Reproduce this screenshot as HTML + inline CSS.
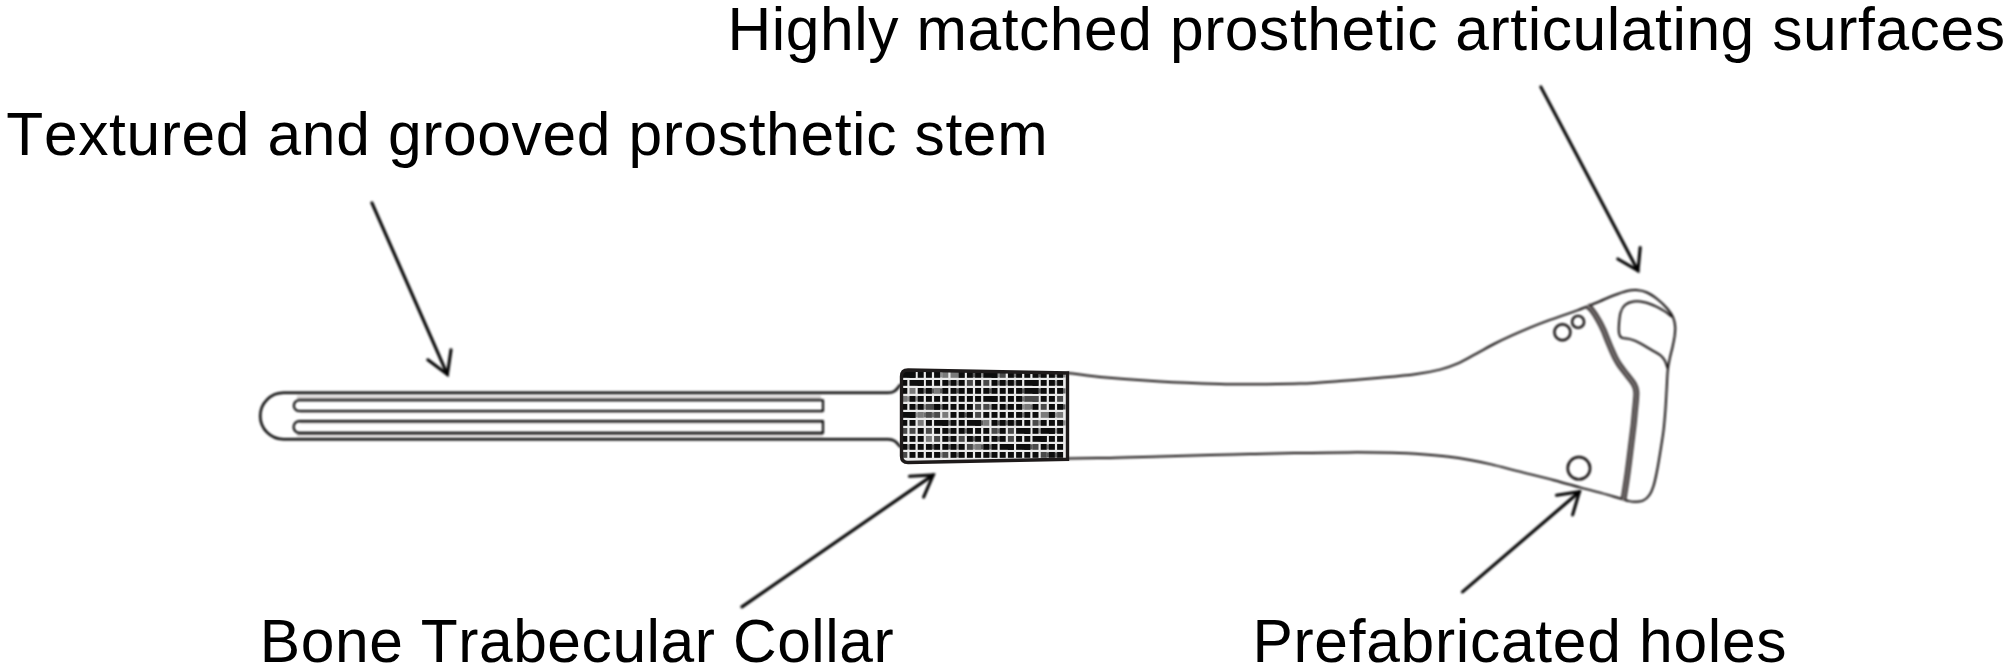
<!DOCTYPE html>
<html><head><meta charset="utf-8">
<style>
html,body{margin:0;padding:0;background:#fff;}
body{width:2008px;height:670px;overflow:hidden;position:relative;}
svg{position:absolute;left:0;top:0;}
text{font-family:"Liberation Sans",sans-serif;font-size:62px;fill:#000;font-kerning:none;}
</style></head>
<body>
<svg width="2008" height="670" viewBox="0 0 2008 670">
<defs>
<linearGradient id="gA" x1="0" y1="0" x2="0" y2="1"><stop offset="0" stop-color="#f0eeee"/><stop offset="0.5" stop-color="#d6d2d2"/><stop offset="1" stop-color="#aaa6a6"/></linearGradient>
<linearGradient id="gD" x1="0" y1="0" x2="0" y2="1"><stop offset="0" stop-color="#a8a4a4"/><stop offset="0.6" stop-color="#dedada"/><stop offset="1" stop-color="#ffffff"/></linearGradient>
<filter id="soft" color-interpolation-filters="sRGB" filterUnits="userSpaceOnUse" x="0" y="0" width="2008" height="670"><feGaussianBlur stdDeviation="0.8"/></filter>
</defs>

<!-- labels -->
<text x="727.5" y="50.3" style="font-size:60.5px;letter-spacing:0.576px">Highly matched prosthetic articulating surfaces</text>
<text x="6.3" y="155.2" style="font-size:60.5px;letter-spacing:0.637px">Textured and grooved prosthetic stem</text>
<text x="259.8" y="662.1" style="font-size:60.5px;letter-spacing:0.562px">Bone Trabecular Collar</text>
<text x="1252.4" y="662.1" style="font-size:60.5px;letter-spacing:0.717px">Prefabricated holes</text>

<g filter="url(#soft)">
<!-- stem shading bands -->
<g transform="translate(0,0.5)">
<rect x="297" y="394.3" width="524" height="4.7" fill="url(#gA)"/>
<rect x="300" y="411.3" width="523" height="2" fill="#e4e1e1"/>
<rect x="300" y="421.4" width="523" height="2" fill="#dcd9d9"/>
<rect x="297" y="433.4" width="526" height="3.6" fill="url(#gD)"/>
</g>

<g fill="none" stroke="#000" stroke-width="2.5" stroke-linejoin="round" stroke-linecap="round" transform="translate(0,0.5)">
<!-- stem outline -->
<path d="M 900,384.5 C 896,390 894,392.2 888,392.2 L 283.5,392.2 A 23.3,23.3 0 0 0 283.5,438.8 L 888,438.8 C 894,438.8 896,441 900,446"/>
<!-- grooves -->
<path stroke-width="2.1" d="M 823,399.8 L 299.2,399.8 A 5.35,5.35 0 0 0 299.2,410.5 L 823,410.5 Z"/>
<path stroke-width="2.1" d="M 823,420.6 L 299.5,420.6 A 5.9,5.9 0 0 0 299.5,432.4 L 823,432.4 Z"/>
</g>
<g fill="none" stroke="#0a0606" stroke-width="2" stroke-linejoin="round" stroke-linecap="round">
<!-- body top -->
<path d="M 1068.0,372.9 C 1073.3,373.6 1084.7,375.5 1100.0,376.9 C 1115.3,378.3 1140.0,380.2 1160.0,381.4 C 1180.0,382.6 1203.3,383.4 1220.0,383.9 C 1236.7,384.4 1246.7,384.2 1260.0,384.2 C 1273.3,384.1 1286.7,384.1 1300.0,383.6 C 1313.3,383.1 1326.7,382.0 1340.0,381.0 C 1353.3,380.0 1367.5,378.9 1380.0,377.8 C 1392.5,376.7 1405.0,375.7 1415.0,374.3 C 1425.0,372.9 1432.8,371.4 1440.0,369.6 C 1447.2,367.8 1452.0,366.0 1458.0,363.4 C 1464.0,360.8 1470.0,357.0 1476.0,353.8 C 1482.0,350.6 1488.0,347.1 1494.0,344.0 C 1500.0,340.9 1506.0,338.1 1512.0,335.4 C 1518.0,332.7 1524.0,330.1 1530.0,327.6 C 1536.0,325.1 1542.0,322.8 1548.0,320.6 C 1554.0,318.4 1560.0,316.5 1566.0,314.4 C 1572.0,312.3 1578.3,310.0 1584.0,307.8 C 1589.7,305.6 1595.1,303.2 1600.0,301.2 C 1604.9,299.1 1608.9,297.2 1613.4,295.5 C 1617.9,293.8 1623.1,291.9 1626.9,291.0 C 1630.7,290.1 1633.0,289.9 1636.3,290.1 C 1639.6,290.4 1643.4,290.9 1647.0,292.5 C 1650.6,294.1 1654.4,296.8 1657.8,299.5 C 1661.2,302.2 1664.6,305.5 1667.2,308.5 C 1669.8,311.5 1671.9,314.5 1673.2,317.6 C 1674.5,320.7 1675.0,323.9 1675.2,327.0 C 1675.4,330.1 1675.0,333.0 1674.6,336.4 C 1674.1,339.8 1673.3,343.6 1672.5,347.2 C 1671.7,350.8 1670.7,354.1 1669.9,357.9 C 1669.1,361.7 1668.3,364.6 1667.8,370.0 C 1667.2,375.4 1667.0,383.3 1666.6,390.0 C 1666.2,396.7 1665.9,403.3 1665.4,410.0 C 1664.9,416.7 1664.3,423.9 1663.6,430.0 C 1662.9,436.1 1662.2,439.8 1661.1,446.8 C 1660.0,453.8 1658.1,465.5 1656.8,472.0 C 1655.5,478.5 1654.7,482.2 1653.5,486.0 C 1652.3,489.8 1651.2,492.6 1649.5,495.0 C 1647.8,497.4 1645.6,499.5 1643.0,500.6 C 1640.4,501.7 1636.7,501.8 1634.0,501.8 C 1631.3,501.8 1628.0,500.8 1626.8,500.6"/>
<!-- body bottom -->
<path d="M 1068.0,458.4 C 1075.0,458.3 1094.7,458.2 1110.0,457.9 C 1125.3,457.6 1143.3,456.9 1160.0,456.4 C 1176.7,455.9 1195.0,455.3 1210.0,454.9 C 1225.0,454.5 1236.0,454.4 1250.0,454.1 C 1264.0,453.8 1277.6,453.4 1294.0,453.1 C 1310.4,452.8 1332.3,452.4 1348.6,452.4 C 1364.9,452.3 1379.3,452.5 1392.0,452.8 C 1404.7,453.1 1415.8,453.8 1425.0,454.4 C 1434.2,455.0 1439.5,455.7 1447.0,456.6 C 1454.5,457.5 1462.6,458.7 1470.0,460.0 C 1477.4,461.3 1482.5,462.3 1491.3,464.4 C 1500.1,466.5 1512.2,469.8 1522.7,472.4 C 1533.2,475.0 1544.5,477.7 1554.0,480.2 C 1563.5,482.7 1572.3,485.3 1580.0,487.4 C 1587.7,489.5 1594.4,491.1 1600.0,492.6 C 1605.6,494.1 1608.9,495.2 1613.4,496.5 C 1617.9,497.8 1624.6,499.9 1626.8,500.6"/>
<!-- inner cup -->
<path d="M 1671.2,316.3 C 1670.3,315.6 1668.3,313.6 1665.8,312.0 C 1663.3,310.4 1660.0,308.2 1656.4,306.6 C 1652.8,305.0 1648.1,303.0 1644.3,302.2 C 1640.5,301.4 1636.8,301.1 1633.6,301.6 C 1630.4,302.1 1627.2,303.2 1625.0,305.0 C 1622.8,306.8 1621.6,309.3 1620.6,312.5 C 1619.6,315.7 1619.3,320.6 1619.0,324.0 C 1618.7,327.4 1618.6,330.7 1619.0,333.0 C 1619.4,335.3 1619.5,336.5 1621.5,337.6 C 1623.5,338.7 1627.8,338.4 1630.9,339.4 C 1634.0,340.3 1637.0,341.6 1640.3,343.3 C 1643.6,345.0 1647.7,347.7 1651.0,349.7 C 1654.3,351.7 1658.1,353.4 1660.4,355.2 C 1662.7,357.0 1663.6,358.4 1664.8,360.5 C 1666.0,362.6 1667.1,366.8 1667.6,368.0"/>
<!-- holes -->
<circle cx="1562.4" cy="332.3" r="8" stroke-width="2.4"/>
<circle cx="1578.1" cy="321.9" r="6" stroke-width="2.3"/>
<circle cx="1578.9" cy="468.2" r="11.2" stroke-width="2.4"/>
</g>

<!-- thick articulating boundary -->
<path d="M 1587.3,305.6 C 1588.1,306.3 1590.1,307.6 1591.9,310.0 C 1593.8,312.4 1596.5,316.7 1598.4,320.0 C 1600.3,323.3 1602.0,326.7 1603.5,330.0 C 1605.0,333.3 1606.1,336.7 1607.5,340.0 C 1608.9,343.3 1610.4,347.0 1611.7,350.0 C 1613.0,353.0 1614.0,355.3 1615.3,357.8 C 1616.6,360.3 1617.6,362.2 1619.5,365.0 C 1621.4,367.8 1624.5,371.6 1626.9,374.8 C 1629.3,378.0 1632.4,381.4 1634.0,384.2 C 1635.6,387.0 1636.0,389.1 1636.3,391.9 C 1636.6,394.7 1636.1,397.8 1635.9,400.8 C 1635.7,403.8 1635.4,406.0 1635.0,410.0 C 1634.6,414.0 1634.3,418.9 1633.6,425.0 C 1632.9,431.1 1631.9,438.7 1630.9,446.8 C 1629.9,454.9 1628.6,465.6 1627.5,473.7 C 1626.4,481.8 1624.9,490.8 1624.2,495.2 C 1623.5,499.6 1623.4,499.2 1623.2,500.0" fill="none" stroke="#363030" stroke-width="5.8" stroke-linecap="butt"/>
<path d="M 1587.3,305.6 C 1588.1,306.3 1590.1,307.6 1591.9,310.0 C 1593.8,312.4 1596.5,316.7 1598.4,320.0 C 1600.3,323.3 1602.0,326.7 1603.5,330.0 C 1605.0,333.3 1606.1,336.7 1607.5,340.0 C 1608.9,343.3 1610.4,347.0 1611.7,350.0 C 1613.0,353.0 1614.0,355.3 1615.3,357.8 C 1616.6,360.3 1617.6,362.2 1619.5,365.0 C 1621.4,367.8 1624.5,371.6 1626.9,374.8 C 1629.3,378.0 1632.4,381.4 1634.0,384.2 C 1635.6,387.0 1636.0,389.1 1636.3,391.9 C 1636.6,394.7 1636.1,397.8 1635.9,400.8 C 1635.7,403.8 1635.4,406.0 1635.0,410.0 C 1634.6,414.0 1634.3,418.9 1633.6,425.0 C 1632.9,431.1 1631.9,438.7 1630.9,446.8 C 1629.9,454.9 1628.6,465.6 1627.5,473.7 C 1626.4,481.8 1624.9,490.8 1624.2,495.2 C 1623.5,499.6 1623.4,499.2 1623.2,500.0" fill="none" stroke="#858080" stroke-width="2" stroke-linecap="butt"/>

</g>
<!-- collar -->
<clipPath id="cclip"><path d="M 908,370 L 1067.5,373 L 1067.5,459.3 L 908,462.5 Q 901.5,462.5 901.5,456 L 901.5,376.5 Q 901.5,370 908,370 Z"/></clipPath>
<g clip-path="url(#cclip)">
<rect x="900" y="368" width="170" height="97" fill="#ebebeb"/>
<rect x="907.1" y="372.3" width="2.6" height="5.2" fill="#707070"/>
<rect x="901.3" y="372.0" width="14.2" height="5.8" fill="#0c0c0c"/>
<rect x="909.5" y="372.0" width="6.0" height="5.8" fill="#0c0c0c"/>
<rect x="917.7" y="372.0" width="6.0" height="5.8" fill="#0c0c0c"/>
<rect x="925.9" y="372.0" width="6.0" height="5.8" fill="#0c0c0c"/>
<rect x="939.9" y="372.3" width="2.6" height="5.2" fill="#909090"/>
<rect x="934.1" y="372.0" width="6.0" height="5.8" fill="#0c0c0c"/>
<rect x="942.3" y="372.0" width="6.0" height="5.8" fill="#7a7a7a"/>
<rect x="950.5" y="372.0" width="14.2" height="5.8" fill="#7a7a7a"/>
<rect x="958.7" y="372.0" width="6.0" height="5.8" fill="#0c0c0c"/>
<rect x="972.7" y="372.3" width="2.6" height="5.2" fill="#5a5a5a"/>
<rect x="966.9" y="372.0" width="6.0" height="5.8" fill="#0c0c0c"/>
<rect x="980.9" y="372.3" width="2.6" height="5.2" fill="#909090"/>
<rect x="975.1" y="372.0" width="6.0" height="5.8" fill="#0c0c0c"/>
<rect x="983.3" y="372.0" width="14.2" height="5.8" fill="#0c0c0c"/>
<rect x="997.3" y="372.3" width="2.6" height="5.2" fill="#909090"/>
<rect x="991.5" y="372.0" width="6.0" height="5.8" fill="#0c0c0c"/>
<rect x="999.7" y="372.0" width="6.0" height="5.8" fill="#4a4a4a"/>
<rect x="1013.7" y="372.3" width="2.6" height="5.2" fill="#707070"/>
<rect x="1007.9" y="372.0" width="6.0" height="5.8" fill="#0c0c0c"/>
<rect x="1016.1" y="372.0" width="6.0" height="5.8" fill="#0c0c0c"/>
<rect x="1024.3" y="372.0" width="6.0" height="5.8" fill="#0c0c0c"/>
<rect x="1038.3" y="372.3" width="2.6" height="5.2" fill="#5a5a5a"/>
<rect x="1032.5" y="372.0" width="6.0" height="5.8" fill="#0c0c0c"/>
<rect x="1040.7" y="372.0" width="6.0" height="5.8" fill="#0c0c0c"/>
<rect x="1054.7" y="372.3" width="2.6" height="5.2" fill="#909090"/>
<rect x="1048.9" y="372.0" width="6.0" height="5.8" fill="#0c0c0c"/>
<rect x="1062.9" y="372.3" width="2.6" height="5.2" fill="#909090"/>
<rect x="1057.1" y="372.0" width="6.0" height="5.8" fill="#0c0c0c"/>
<rect x="901.3" y="380.0" width="6.0" height="5.8" fill="#0c0c0c"/>
<rect x="915.3" y="380.3" width="2.6" height="5.2" fill="#909090"/>
<rect x="909.5" y="380.0" width="14.2" height="5.8" fill="#0c0c0c"/>
<rect x="917.7" y="380.0" width="6.0" height="5.8" fill="#0c0c0c"/>
<rect x="925.9" y="380.0" width="6.0" height="5.8" fill="#0c0c0c"/>
<rect x="934.1" y="380.0" width="6.0" height="5.8" fill="#0c0c0c"/>
<rect x="948.1" y="380.3" width="2.6" height="5.2" fill="#707070"/>
<rect x="942.3" y="380.0" width="6.0" height="5.8" fill="#0c0c0c"/>
<rect x="956.3" y="380.3" width="2.6" height="5.2" fill="#909090"/>
<rect x="950.5" y="380.0" width="6.0" height="5.8" fill="#0c0c0c"/>
<rect x="958.7" y="380.0" width="6.0" height="5.8" fill="#0c0c0c"/>
<rect x="966.9" y="380.0" width="6.0" height="5.8" fill="#4a4a4a"/>
<rect x="975.1" y="380.0" width="6.0" height="5.8" fill="#0c0c0c"/>
<rect x="983.3" y="380.0" width="6.0" height="5.8" fill="#4a4a4a"/>
<rect x="997.3" y="380.3" width="2.6" height="5.2" fill="#707070"/>
<rect x="991.5" y="380.0" width="6.0" height="5.8" fill="#0c0c0c"/>
<rect x="1005.5" y="380.3" width="2.6" height="5.2" fill="#909090"/>
<rect x="999.7" y="380.0" width="6.0" height="5.8" fill="#0c0c0c"/>
<rect x="1013.7" y="380.3" width="2.6" height="5.2" fill="#909090"/>
<rect x="1007.9" y="380.0" width="6.0" height="5.8" fill="#0c0c0c"/>
<rect x="1016.1" y="380.0" width="6.0" height="5.8" fill="#0c0c0c"/>
<rect x="1024.3" y="380.0" width="14.2" height="5.8" fill="#0c0c0c"/>
<rect x="1032.5" y="380.0" width="6.0" height="5.8" fill="#0c0c0c"/>
<rect x="1040.7" y="380.0" width="6.0" height="5.8" fill="#0c0c0c"/>
<rect x="1054.7" y="380.3" width="2.6" height="5.2" fill="#909090"/>
<rect x="1048.9" y="380.0" width="6.0" height="5.8" fill="#0c0c0c"/>
<rect x="1057.1" y="380.0" width="6.0" height="5.8" fill="#0c0c0c"/>
<rect x="901.3" y="388.0" width="6.0" height="5.8" fill="#0c0c0c"/>
<rect x="909.5" y="388.0" width="6.0" height="5.8" fill="#7a7a7a"/>
<rect x="923.5" y="388.3" width="2.6" height="5.2" fill="#707070"/>
<rect x="917.7" y="388.0" width="6.0" height="5.8" fill="#0c0c0c"/>
<rect x="931.7" y="388.3" width="2.6" height="5.2" fill="#5a5a5a"/>
<rect x="925.9" y="388.0" width="6.0" height="5.8" fill="#0c0c0c"/>
<rect x="939.9" y="388.3" width="2.6" height="5.2" fill="#5a5a5a"/>
<rect x="934.1" y="388.0" width="6.0" height="5.8" fill="#7a7a7a"/>
<rect x="942.3" y="388.0" width="6.0" height="5.8" fill="#0c0c0c"/>
<rect x="956.3" y="388.3" width="2.6" height="5.2" fill="#5a5a5a"/>
<rect x="950.5" y="388.0" width="6.0" height="5.8" fill="#0c0c0c"/>
<rect x="958.7" y="388.0" width="6.0" height="5.8" fill="#0c0c0c"/>
<rect x="966.9" y="388.0" width="6.0" height="5.8" fill="#0c0c0c"/>
<rect x="975.1" y="388.0" width="6.0" height="5.8" fill="#0c0c0c"/>
<rect x="989.1" y="388.3" width="2.6" height="5.2" fill="#5a5a5a"/>
<rect x="983.3" y="388.0" width="6.0" height="5.8" fill="#0c0c0c"/>
<rect x="991.5" y="388.0" width="6.0" height="5.8" fill="#0c0c0c"/>
<rect x="999.7" y="388.0" width="6.0" height="5.8" fill="#0c0c0c"/>
<rect x="1007.9" y="388.0" width="6.0" height="5.8" fill="#0c0c0c"/>
<rect x="1021.9" y="388.3" width="2.6" height="5.2" fill="#5a5a5a"/>
<rect x="1016.1" y="388.0" width="6.0" height="5.8" fill="#0c0c0c"/>
<rect x="1024.3" y="388.0" width="14.2" height="5.8" fill="#0c0c0c"/>
<rect x="1038.3" y="388.3" width="2.6" height="5.2" fill="#5a5a5a"/>
<rect x="1032.5" y="388.0" width="6.0" height="5.8" fill="#0c0c0c"/>
<rect x="1040.7" y="388.0" width="6.0" height="5.8" fill="#0c0c0c"/>
<rect x="1048.9" y="388.0" width="6.0" height="5.8" fill="#0c0c0c"/>
<rect x="1062.9" y="388.3" width="2.6" height="5.2" fill="#707070"/>
<rect x="1057.1" y="388.0" width="6.0" height="5.8" fill="#0c0c0c"/>
<rect x="907.1" y="396.3" width="2.6" height="5.2" fill="#909090"/>
<rect x="901.3" y="396.0" width="6.0" height="5.8" fill="#7a7a7a"/>
<rect x="915.3" y="396.3" width="2.6" height="5.2" fill="#909090"/>
<rect x="909.5" y="396.0" width="6.0" height="5.8" fill="#0c0c0c"/>
<rect x="917.7" y="396.0" width="6.0" height="5.8" fill="#0c0c0c"/>
<rect x="925.9" y="396.0" width="6.0" height="5.8" fill="#0c0c0c"/>
<rect x="934.1" y="396.0" width="6.0" height="5.8" fill="#0c0c0c"/>
<rect x="942.3" y="396.0" width="6.0" height="5.8" fill="#0c0c0c"/>
<rect x="950.5" y="396.0" width="6.0" height="5.8" fill="#0c0c0c"/>
<rect x="958.7" y="396.0" width="6.0" height="5.8" fill="#0c0c0c"/>
<rect x="966.9" y="396.0" width="6.0" height="5.8" fill="#0c0c0c"/>
<rect x="975.1" y="396.0" width="6.0" height="5.8" fill="#0c0c0c"/>
<rect x="989.1" y="396.3" width="2.6" height="5.2" fill="#909090"/>
<rect x="983.3" y="396.0" width="14.2" height="5.8" fill="#0c0c0c"/>
<rect x="991.5" y="396.0" width="6.0" height="5.8" fill="#0c0c0c"/>
<rect x="999.7" y="396.0" width="6.0" height="5.8" fill="#0c0c0c"/>
<rect x="1007.9" y="396.0" width="6.0" height="5.8" fill="#0c0c0c"/>
<rect x="1021.9" y="396.3" width="2.6" height="5.2" fill="#707070"/>
<rect x="1016.1" y="396.0" width="6.0" height="5.8" fill="#0c0c0c"/>
<rect x="1024.3" y="396.0" width="14.2" height="5.8" fill="#4a4a4a"/>
<rect x="1032.5" y="396.0" width="6.0" height="5.8" fill="#4a4a4a"/>
<rect x="1040.7" y="396.0" width="6.0" height="5.8" fill="#0c0c0c"/>
<rect x="1048.9" y="396.0" width="6.0" height="5.8" fill="#0c0c0c"/>
<rect x="1057.1" y="396.0" width="6.0" height="5.8" fill="#4a4a4a"/>
<rect x="901.3" y="404.0" width="6.0" height="5.8" fill="#0c0c0c"/>
<rect x="915.3" y="404.3" width="2.6" height="5.2" fill="#909090"/>
<rect x="909.5" y="404.0" width="6.0" height="5.8" fill="#0c0c0c"/>
<rect x="923.5" y="404.3" width="2.6" height="5.2" fill="#909090"/>
<rect x="917.7" y="404.0" width="6.0" height="5.8" fill="#0c0c0c"/>
<rect x="925.9" y="404.0" width="14.2" height="5.8" fill="#4a4a4a"/>
<rect x="939.9" y="404.3" width="2.6" height="5.2" fill="#707070"/>
<rect x="934.1" y="404.0" width="6.0" height="5.8" fill="#0c0c0c"/>
<rect x="942.3" y="404.0" width="6.0" height="5.8" fill="#0c0c0c"/>
<rect x="950.5" y="404.0" width="6.0" height="5.8" fill="#0c0c0c"/>
<rect x="958.7" y="404.0" width="6.0" height="5.8" fill="#0c0c0c"/>
<rect x="966.9" y="404.0" width="6.0" height="5.8" fill="#0c0c0c"/>
<rect x="975.1" y="404.0" width="6.0" height="5.8" fill="#4a4a4a"/>
<rect x="989.1" y="404.3" width="2.6" height="5.2" fill="#909090"/>
<rect x="983.3" y="404.0" width="6.0" height="5.8" fill="#4a4a4a"/>
<rect x="991.5" y="404.0" width="6.0" height="5.8" fill="#0c0c0c"/>
<rect x="1005.5" y="404.3" width="2.6" height="5.2" fill="#909090"/>
<rect x="999.7" y="404.0" width="6.0" height="5.8" fill="#0c0c0c"/>
<rect x="1007.9" y="404.0" width="6.0" height="5.8" fill="#0c0c0c"/>
<rect x="1021.9" y="404.3" width="2.6" height="5.2" fill="#909090"/>
<rect x="1016.1" y="404.0" width="6.0" height="5.8" fill="#0c0c0c"/>
<rect x="1030.1" y="404.3" width="2.6" height="5.2" fill="#707070"/>
<rect x="1024.3" y="404.0" width="6.0" height="5.8" fill="#7a7a7a"/>
<rect x="1032.5" y="404.0" width="6.0" height="5.8" fill="#0c0c0c"/>
<rect x="1040.7" y="404.0" width="6.0" height="5.8" fill="#4a4a4a"/>
<rect x="1048.9" y="404.0" width="6.0" height="5.8" fill="#0c0c0c"/>
<rect x="1062.9" y="404.3" width="2.6" height="5.2" fill="#5a5a5a"/>
<rect x="1057.1" y="404.0" width="6.0" height="5.8" fill="#0c0c0c"/>
<rect x="907.1" y="412.3" width="2.6" height="5.2" fill="#5a5a5a"/>
<rect x="901.3" y="412.0" width="14.2" height="5.8" fill="#0c0c0c"/>
<rect x="915.3" y="412.3" width="2.6" height="5.2" fill="#909090"/>
<rect x="909.5" y="412.0" width="6.0" height="5.8" fill="#0c0c0c"/>
<rect x="923.5" y="412.3" width="2.6" height="5.2" fill="#707070"/>
<rect x="917.7" y="412.0" width="6.0" height="5.8" fill="#7a7a7a"/>
<rect x="931.7" y="412.3" width="2.6" height="5.2" fill="#707070"/>
<rect x="925.9" y="412.0" width="6.0" height="5.8" fill="#4a4a4a"/>
<rect x="934.1" y="412.0" width="6.0" height="5.8" fill="#4a4a4a"/>
<rect x="942.3" y="412.0" width="6.0" height="5.8" fill="#7a7a7a"/>
<rect x="950.5" y="412.0" width="6.0" height="5.8" fill="#0c0c0c"/>
<rect x="964.5" y="412.3" width="2.6" height="5.2" fill="#5a5a5a"/>
<rect x="958.7" y="412.0" width="6.0" height="5.8" fill="#0c0c0c"/>
<rect x="966.9" y="412.0" width="6.0" height="5.8" fill="#0c0c0c"/>
<rect x="975.1" y="412.0" width="6.0" height="5.8" fill="#4a4a4a"/>
<rect x="983.3" y="412.0" width="6.0" height="5.8" fill="#0c0c0c"/>
<rect x="991.5" y="412.0" width="6.0" height="5.8" fill="#0c0c0c"/>
<rect x="999.7" y="412.0" width="6.0" height="5.8" fill="#0c0c0c"/>
<rect x="1007.9" y="412.0" width="6.0" height="5.8" fill="#0c0c0c"/>
<rect x="1021.9" y="412.3" width="2.6" height="5.2" fill="#707070"/>
<rect x="1016.1" y="412.0" width="6.0" height="5.8" fill="#0c0c0c"/>
<rect x="1024.3" y="412.0" width="6.0" height="5.8" fill="#0c0c0c"/>
<rect x="1032.5" y="412.0" width="6.0" height="5.8" fill="#0c0c0c"/>
<rect x="1040.7" y="412.0" width="14.2" height="5.8" fill="#7a7a7a"/>
<rect x="1054.7" y="412.3" width="2.6" height="5.2" fill="#909090"/>
<rect x="1048.9" y="412.0" width="6.0" height="5.8" fill="#0c0c0c"/>
<rect x="1057.1" y="412.0" width="6.0" height="5.8" fill="#7a7a7a"/>
<rect x="901.3" y="420.0" width="6.0" height="5.8" fill="#0c0c0c"/>
<rect x="909.5" y="420.0" width="6.0" height="5.8" fill="#0c0c0c"/>
<rect x="917.7" y="420.0" width="6.0" height="5.8" fill="#7a7a7a"/>
<rect x="925.9" y="420.0" width="6.0" height="5.8" fill="#0c0c0c"/>
<rect x="934.1" y="420.0" width="14.2" height="5.8" fill="#0c0c0c"/>
<rect x="948.1" y="420.3" width="2.6" height="5.2" fill="#707070"/>
<rect x="942.3" y="420.0" width="6.0" height="5.8" fill="#0c0c0c"/>
<rect x="950.5" y="420.0" width="6.0" height="5.8" fill="#0c0c0c"/>
<rect x="958.7" y="420.0" width="6.0" height="5.8" fill="#0c0c0c"/>
<rect x="966.9" y="420.0" width="14.2" height="5.8" fill="#0c0c0c"/>
<rect x="980.9" y="420.3" width="2.6" height="5.2" fill="#5a5a5a"/>
<rect x="975.1" y="420.0" width="6.0" height="5.8" fill="#0c0c0c"/>
<rect x="983.3" y="420.0" width="6.0" height="5.8" fill="#7a7a7a"/>
<rect x="997.3" y="420.3" width="2.6" height="5.2" fill="#5a5a5a"/>
<rect x="991.5" y="420.0" width="6.0" height="5.8" fill="#0c0c0c"/>
<rect x="1005.5" y="420.3" width="2.6" height="5.2" fill="#707070"/>
<rect x="999.7" y="420.0" width="6.0" height="5.8" fill="#0c0c0c"/>
<rect x="1013.7" y="420.3" width="2.6" height="5.2" fill="#909090"/>
<rect x="1007.9" y="420.0" width="6.0" height="5.8" fill="#0c0c0c"/>
<rect x="1016.1" y="420.0" width="6.0" height="5.8" fill="#0c0c0c"/>
<rect x="1024.3" y="420.0" width="6.0" height="5.8" fill="#0c0c0c"/>
<rect x="1038.3" y="420.3" width="2.6" height="5.2" fill="#909090"/>
<rect x="1032.5" y="420.0" width="6.0" height="5.8" fill="#4a4a4a"/>
<rect x="1040.7" y="420.0" width="6.0" height="5.8" fill="#0c0c0c"/>
<rect x="1048.9" y="420.0" width="6.0" height="5.8" fill="#0c0c0c"/>
<rect x="1062.9" y="420.3" width="2.6" height="5.2" fill="#909090"/>
<rect x="1057.1" y="420.0" width="6.0" height="5.8" fill="#0c0c0c"/>
<rect x="901.3" y="428.0" width="6.0" height="5.8" fill="#4a4a4a"/>
<rect x="909.5" y="428.0" width="6.0" height="5.8" fill="#4a4a4a"/>
<rect x="917.7" y="428.0" width="6.0" height="5.8" fill="#0c0c0c"/>
<rect x="925.9" y="428.0" width="6.0" height="5.8" fill="#4a4a4a"/>
<rect x="934.1" y="428.0" width="6.0" height="5.8" fill="#0c0c0c"/>
<rect x="948.1" y="428.3" width="2.6" height="5.2" fill="#707070"/>
<rect x="942.3" y="428.0" width="6.0" height="5.8" fill="#0c0c0c"/>
<rect x="950.5" y="428.0" width="6.0" height="5.8" fill="#0c0c0c"/>
<rect x="964.5" y="428.3" width="2.6" height="5.2" fill="#707070"/>
<rect x="958.7" y="428.0" width="6.0" height="5.8" fill="#0c0c0c"/>
<rect x="966.9" y="428.0" width="6.0" height="5.8" fill="#0c0c0c"/>
<rect x="975.1" y="428.0" width="6.0" height="5.8" fill="#0c0c0c"/>
<rect x="983.3" y="428.0" width="6.0" height="5.8" fill="#0c0c0c"/>
<rect x="997.3" y="428.3" width="2.6" height="5.2" fill="#707070"/>
<rect x="991.5" y="428.0" width="6.0" height="5.8" fill="#4a4a4a"/>
<rect x="999.7" y="428.0" width="6.0" height="5.8" fill="#0c0c0c"/>
<rect x="1007.9" y="428.0" width="6.0" height="5.8" fill="#4a4a4a"/>
<rect x="1016.1" y="428.0" width="14.2" height="5.8" fill="#0c0c0c"/>
<rect x="1024.3" y="428.0" width="6.0" height="5.8" fill="#0c0c0c"/>
<rect x="1038.3" y="428.3" width="2.6" height="5.2" fill="#909090"/>
<rect x="1032.5" y="428.0" width="6.0" height="5.8" fill="#0c0c0c"/>
<rect x="1040.7" y="428.0" width="14.2" height="5.8" fill="#0c0c0c"/>
<rect x="1054.7" y="428.3" width="2.6" height="5.2" fill="#909090"/>
<rect x="1048.9" y="428.0" width="6.0" height="5.8" fill="#0c0c0c"/>
<rect x="1057.1" y="428.0" width="6.0" height="5.8" fill="#0c0c0c"/>
<rect x="901.3" y="436.0" width="6.0" height="5.8" fill="#0c0c0c"/>
<rect x="909.5" y="436.0" width="6.0" height="5.8" fill="#0c0c0c"/>
<rect x="917.7" y="436.0" width="6.0" height="5.8" fill="#0c0c0c"/>
<rect x="925.9" y="436.0" width="6.0" height="5.8" fill="#7a7a7a"/>
<rect x="934.1" y="436.0" width="6.0" height="5.8" fill="#4a4a4a"/>
<rect x="948.1" y="436.3" width="2.6" height="5.2" fill="#707070"/>
<rect x="942.3" y="436.0" width="6.0" height="5.8" fill="#0c0c0c"/>
<rect x="950.5" y="436.0" width="6.0" height="5.8" fill="#0c0c0c"/>
<rect x="958.7" y="436.0" width="6.0" height="5.8" fill="#4a4a4a"/>
<rect x="972.7" y="436.3" width="2.6" height="5.2" fill="#5a5a5a"/>
<rect x="966.9" y="436.0" width="6.0" height="5.8" fill="#0c0c0c"/>
<rect x="975.1" y="436.0" width="6.0" height="5.8" fill="#0c0c0c"/>
<rect x="983.3" y="436.0" width="6.0" height="5.8" fill="#0c0c0c"/>
<rect x="997.3" y="436.3" width="2.6" height="5.2" fill="#5a5a5a"/>
<rect x="991.5" y="436.0" width="6.0" height="5.8" fill="#0c0c0c"/>
<rect x="999.7" y="436.0" width="6.0" height="5.8" fill="#0c0c0c"/>
<rect x="1007.9" y="436.0" width="6.0" height="5.8" fill="#4a4a4a"/>
<rect x="1016.1" y="436.0" width="6.0" height="5.8" fill="#0c0c0c"/>
<rect x="1024.3" y="436.0" width="6.0" height="5.8" fill="#0c0c0c"/>
<rect x="1038.3" y="436.3" width="2.6" height="5.2" fill="#707070"/>
<rect x="1032.5" y="436.0" width="14.2" height="5.8" fill="#0c0c0c"/>
<rect x="1040.7" y="436.0" width="6.0" height="5.8" fill="#0c0c0c"/>
<rect x="1048.9" y="436.0" width="6.0" height="5.8" fill="#0c0c0c"/>
<rect x="1057.1" y="436.0" width="6.0" height="5.8" fill="#0c0c0c"/>
<rect x="907.1" y="444.3" width="2.6" height="5.2" fill="#909090"/>
<rect x="901.3" y="444.0" width="6.0" height="5.8" fill="#0c0c0c"/>
<rect x="909.5" y="444.0" width="6.0" height="5.8" fill="#0c0c0c"/>
<rect x="917.7" y="444.0" width="6.0" height="5.8" fill="#0c0c0c"/>
<rect x="931.7" y="444.3" width="2.6" height="5.2" fill="#5a5a5a"/>
<rect x="925.9" y="444.0" width="6.0" height="5.8" fill="#0c0c0c"/>
<rect x="934.1" y="444.0" width="6.0" height="5.8" fill="#0c0c0c"/>
<rect x="948.1" y="444.3" width="2.6" height="5.2" fill="#5a5a5a"/>
<rect x="942.3" y="444.0" width="6.0" height="5.8" fill="#0c0c0c"/>
<rect x="956.3" y="444.3" width="2.6" height="5.2" fill="#909090"/>
<rect x="950.5" y="444.0" width="6.0" height="5.8" fill="#0c0c0c"/>
<rect x="958.7" y="444.0" width="6.0" height="5.8" fill="#0c0c0c"/>
<rect x="972.7" y="444.3" width="2.6" height="5.2" fill="#909090"/>
<rect x="966.9" y="444.0" width="6.0" height="5.8" fill="#4a4a4a"/>
<rect x="980.9" y="444.3" width="2.6" height="5.2" fill="#5a5a5a"/>
<rect x="975.1" y="444.0" width="6.0" height="5.8" fill="#7a7a7a"/>
<rect x="989.1" y="444.3" width="2.6" height="5.2" fill="#707070"/>
<rect x="983.3" y="444.0" width="6.0" height="5.8" fill="#0c0c0c"/>
<rect x="991.5" y="444.0" width="6.0" height="5.8" fill="#0c0c0c"/>
<rect x="999.7" y="444.0" width="14.2" height="5.8" fill="#0c0c0c"/>
<rect x="1007.9" y="444.0" width="6.0" height="5.8" fill="#0c0c0c"/>
<rect x="1021.9" y="444.3" width="2.6" height="5.2" fill="#5a5a5a"/>
<rect x="1016.1" y="444.0" width="14.2" height="5.8" fill="#0c0c0c"/>
<rect x="1030.1" y="444.3" width="2.6" height="5.2" fill="#5a5a5a"/>
<rect x="1024.3" y="444.0" width="6.0" height="5.8" fill="#0c0c0c"/>
<rect x="1032.5" y="444.0" width="6.0" height="5.8" fill="#4a4a4a"/>
<rect x="1046.5" y="444.3" width="2.6" height="5.2" fill="#707070"/>
<rect x="1040.7" y="444.0" width="6.0" height="5.8" fill="#0c0c0c"/>
<rect x="1048.9" y="444.0" width="6.0" height="5.8" fill="#0c0c0c"/>
<rect x="1057.1" y="444.0" width="6.0" height="5.8" fill="#0c0c0c"/>
<rect x="901.3" y="452.0" width="6.0" height="5.8" fill="#4a4a4a"/>
<rect x="909.5" y="452.0" width="6.0" height="5.8" fill="#0c0c0c"/>
<rect x="917.7" y="452.0" width="6.0" height="5.8" fill="#0c0c0c"/>
<rect x="925.9" y="452.0" width="6.0" height="5.8" fill="#0c0c0c"/>
<rect x="939.9" y="452.3" width="2.6" height="5.2" fill="#909090"/>
<rect x="934.1" y="452.0" width="6.0" height="5.8" fill="#0c0c0c"/>
<rect x="942.3" y="452.0" width="6.0" height="5.8" fill="#4a4a4a"/>
<rect x="956.3" y="452.3" width="2.6" height="5.2" fill="#707070"/>
<rect x="950.5" y="452.0" width="6.0" height="5.8" fill="#0c0c0c"/>
<rect x="958.7" y="452.0" width="6.0" height="5.8" fill="#0c0c0c"/>
<rect x="966.9" y="452.0" width="6.0" height="5.8" fill="#0c0c0c"/>
<rect x="975.1" y="452.0" width="6.0" height="5.8" fill="#0c0c0c"/>
<rect x="989.1" y="452.3" width="2.6" height="5.2" fill="#909090"/>
<rect x="983.3" y="452.0" width="6.0" height="5.8" fill="#0c0c0c"/>
<rect x="991.5" y="452.0" width="6.0" height="5.8" fill="#0c0c0c"/>
<rect x="999.7" y="452.0" width="6.0" height="5.8" fill="#0c0c0c"/>
<rect x="1007.9" y="452.0" width="6.0" height="5.8" fill="#0c0c0c"/>
<rect x="1016.1" y="452.0" width="6.0" height="5.8" fill="#0c0c0c"/>
<rect x="1024.3" y="452.0" width="6.0" height="5.8" fill="#0c0c0c"/>
<rect x="1032.5" y="452.0" width="6.0" height="5.8" fill="#0c0c0c"/>
<rect x="1046.5" y="452.3" width="2.6" height="5.2" fill="#5a5a5a"/>
<rect x="1040.7" y="452.0" width="6.0" height="5.8" fill="#4a4a4a"/>
<rect x="1054.7" y="452.3" width="2.6" height="5.2" fill="#5a5a5a"/>
<rect x="1048.9" y="452.0" width="6.0" height="5.8" fill="#0c0c0c"/>
<rect x="1057.1" y="452.0" width="6.0" height="5.8" fill="#0c0c0c"/>
</g>
<path d="M 908,370 L 1067.5,373 L 1067.5,459.3 L 908,462.5 Q 901.5,462.5 901.5,456 L 901.5,376.5 Q 901.5,370 908,370 Z" fill="none" stroke="#1e1a1a" stroke-width="3.4"/>

<!-- arrows -->
<g fill="none" stroke="#000" stroke-width="3.1" stroke-linecap="round" stroke-linejoin="miter" filter="url(#soft)">
<path d="M 371.9,202.8 L 447.4,374.5"/>
<path d="M 427.8,359.8 L 447.4,374.5 L 451.0,349.7"/>
<path d="M 741.9,606.9 L 933.3,474.9"/>
<path d="M 909.5,476.3 L 933.3,474.9 L 923.6,497.2"/>
<path d="M 1462.5,591.9 L 1579.5,491.7"/>
<path d="M 1556.5,495.2 L 1579.5,491.7 L 1572.6,514.9"/>
<path d="M 1540.8,86.9 L 1638.0,270.7"/>
<path d="M 1617.8,259.0 L 1638.0,270.7 L 1640.2,247.5"/>
</g>
</svg>
</body></html>
